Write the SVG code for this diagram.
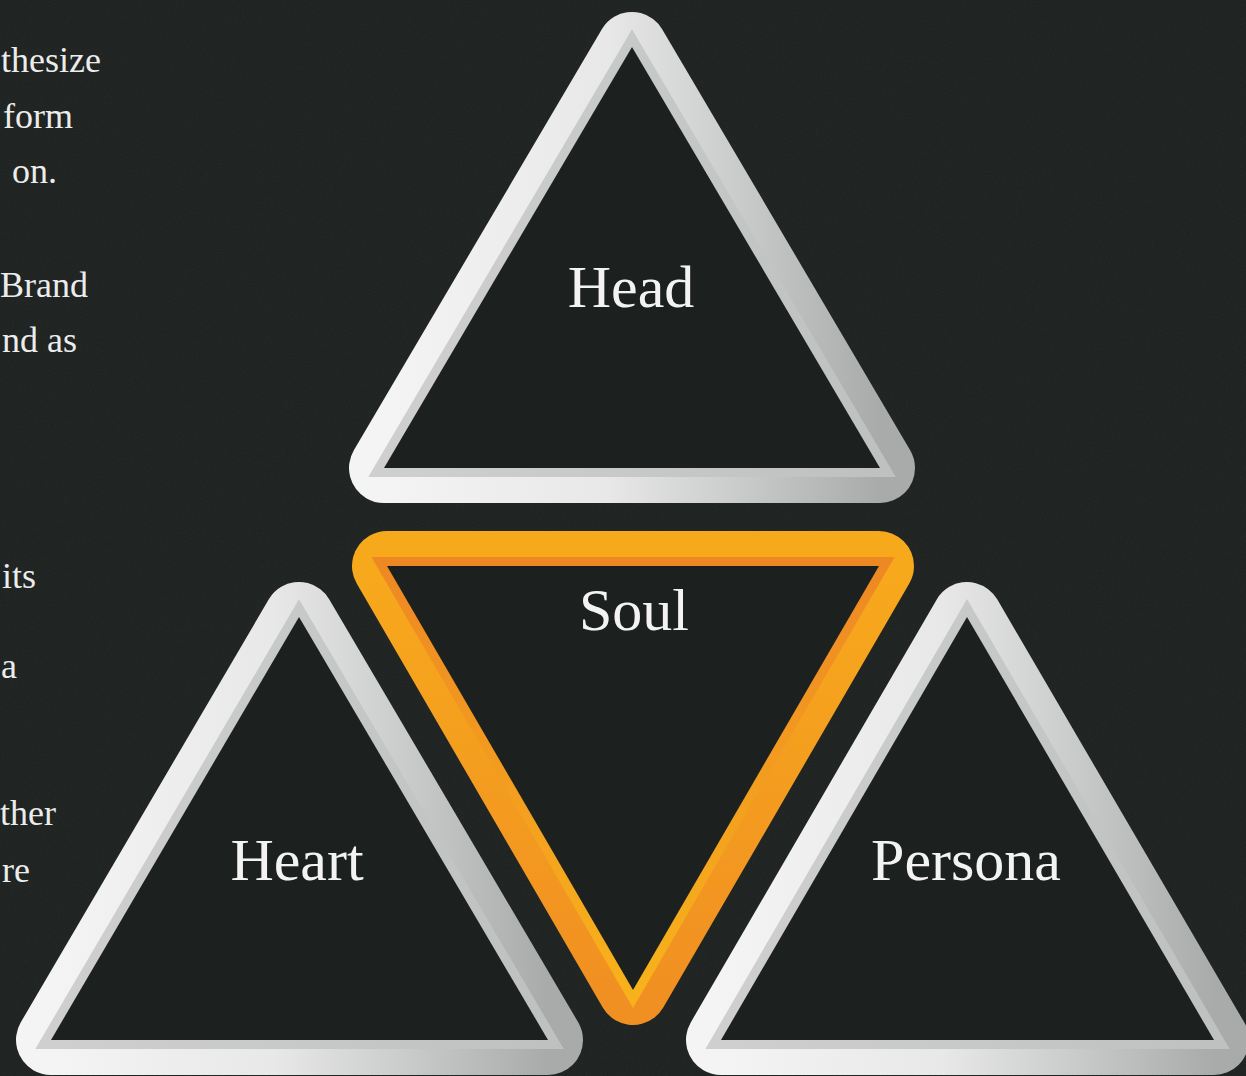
<svg xmlns="http://www.w3.org/2000/svg" width="1246" height="1076" viewBox="0 0 1246 1076">
  <defs>
    <linearGradient id="gw" x1="0" y1="0" x2="1" y2="0">
      <stop offset="0" stop-color="#f4f4f4"/>
      <stop offset="0.45" stop-color="#e8e8e8"/>
      <stop offset="1" stop-color="#a9abab"/>
    </linearGradient>
    <linearGradient id="gwi" x1="0" y1="0" x2="1" y2="0">
      <stop offset="0" stop-color="#cfcfcf"/>
      <stop offset="1" stop-color="#bfc1c1"/>
    </linearGradient>
    <linearGradient id="go" x1="0" y1="0" x2="0" y2="1">
      <stop offset="0" stop-color="#f7a91c"/>
      <stop offset="1" stop-color="#f19022"/>
    </linearGradient>
    <linearGradient id="goi" x1="0" y1="0" x2="0" y2="1">
      <stop offset="0" stop-color="#ee8823"/>
      <stop offset="1" stop-color="#f7b21b"/>
    </linearGradient>
    <filter id="noise" x="0" y="0" width="100%" height="100%">
      <feTurbulence type="fractalNoise" baseFrequency="0.9" numOctaves="2" seed="3"/>
      <feColorMatrix type="saturate" values="0"/>
    </filter>
  </defs>
  <style>
    .outer { fill: none; stroke: url(#gw); stroke-width: 70; stroke-linejoin: round; }
    .inner { fill: none; stroke: url(#gwi); stroke-width: 18; stroke-linejoin: miter; }
    .outer-o { fill: none; stroke: url(#go); stroke-width: 70; stroke-linejoin: round; }
    .inner-o { fill: none; stroke: url(#goi); stroke-width: 18; stroke-linejoin: miter; }
    .hole { fill: #1c201e; }
    .label { font-family: "Liberation Serif", "Times New Roman", serif; font-size: 60px; fill: #f3f3f3; text-anchor: middle; }
    .side { font-family: "Liberation Serif", "Times New Roman", serif; font-size: 36px; fill: #ececec; text-anchor: end; }
  </style>
  <rect width="1246" height="1076" fill="#1c201e"/>
  <rect width="1246" height="1076" filter="url(#noise)" opacity="0.06"/>

  <g id="side-text">
    <text class="side" x="101" y="72">thesize</text>
    <text class="side" x="73" y="128">form</text>
    <text class="side" x="57" y="183">on.</text>
    <text class="side" x="88" y="297">Brand</text>
    <text class="side" x="77" y="352">nd as</text>
    <text class="side" x="36" y="588">its</text>
    <text class="side" x="17" y="678">a</text>
    <text class="side" x="56" y="825">ther</text>
    <text class="side" x="30" y="882">re</text>
  </g>

  <g id="connectors"></g>

  <g id="head">
    <polygon class="outer" points="632,47 384,468 880,468"/>
    <polygon class="inner" points="632,47 384,468 880,468"/>
    <polygon class="hole" points="632,47 384,468 880,468"/>
    <text class="label" x="631" y="307">Head</text>
  </g>

  <g id="soul">
    <polygon class="outer-o" points="387,566 879,566 633,990"/>
    <polygon class="inner-o" points="387,566 879,566 633,990"/>
    <polygon class="hole" points="387,566 879,566 633,990"/>
    <text class="label" x="634" y="630">Soul</text>
  </g>

  <g id="heart">
    <polygon class="outer" points="299,617 51,1040 548,1040"/>
    <polygon class="inner" points="299,617 51,1040 548,1040"/>
    <polygon class="hole" points="299,617 51,1040 548,1040"/>
    <text class="label" x="297" y="880">Heart</text>
  </g>

  <g id="persona">
    <polygon class="outer" points="967,617 721,1040 1214,1040"/>
    <polygon class="inner" points="967,617 721,1040 1214,1040"/>
    <polygon class="hole" points="967,617 721,1040 1214,1040"/>
    <text class="label" x="966" y="880">Persona</text>
  </g>
</svg>
